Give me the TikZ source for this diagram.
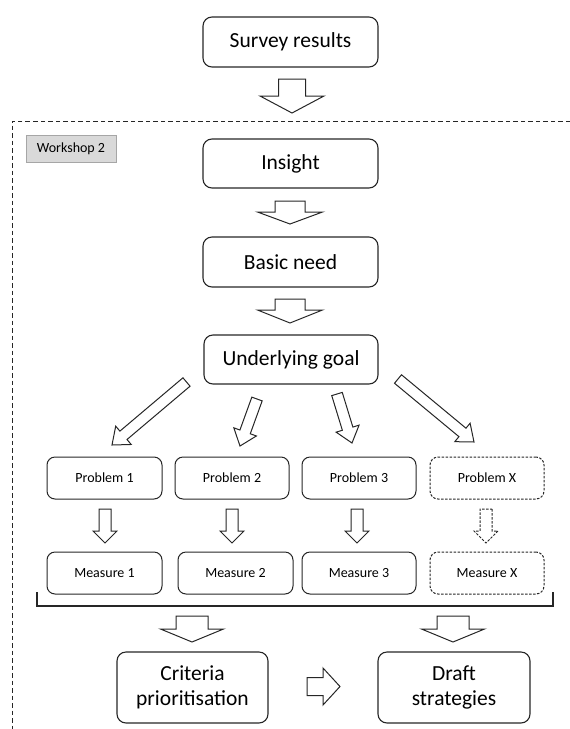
\documentclass[tikz,border=0pt]{standalone}
\usepackage{fontspec}
\setmainfont{Carlito}
\usetikzlibrary{calc}
\definecolor{linegray}{HTML}{262626}
\definecolor{wsfill}{HTML}{D9D9D9}
\definecolor{wsdraw}{HTML}{A6A6A6}
\tikzset{
  bigbox/.style={draw=linegray, line width=1.1pt, rounded corners=9pt, align=center, font=\fontsize{21.5}{25}\selectfont},
  smallbox/.style={draw=linegray, line width=1pt, rounded corners=8pt, align=center, font=\fontsize{14}{16}\selectfont, minimum width=114pt, minimum height=42pt},
  dashbox/.style={smallbox, dash pattern=on 2.5pt off 1.5pt},
  blockarr/.style={draw=linegray, line width=1pt, fill=white, line join=miter},
  border/.style={draw=linegray, line width=1pt, dash pattern=on 4.5pt off 3pt},
}
\newcommand{\blockarrow}[6][]{%
  \coordinate (ba-h) at ($(#3)!#6!(#2)$);
  \draw[blockarr,#1] ($(#2)!#4!90:(#3)$) -- ($(ba-h)!#4!90:(#3)$) -- ($(ba-h)!#5!90:(#3)$) -- (#3)
     -- ($(ba-h)!#5!-90:(#3)$) -- ($(ba-h)!#4!-90:(#3)$) -- ($(#2)!#4!-90:(#3)$) -- cycle;}
\begin{document}
\begin{tikzpicture}[x=1pt,y=-1pt]
\useasboundingbox (0,0) rectangle (570,729);
% border of workshop
\coordinate (bTL) at (12,121);
\coordinate (bTR) at (570,121);
\coordinate (bBL) at (12,729);
\draw[border] (bTR) -- (bTL) -- (bBL);
\node[draw=wsdraw, fill=wsfill, line width=0.6pt, minimum width=90pt, minimum height=27pt, font=\fontsize{14}{16}\selectfont] (ws) at (71,148.5) {Workshop 2};
% main column
\node[bigbox, minimum width=175pt, minimum height=50pt] (survey) at (290.5,42) {Survey results};
\node[bigbox, minimum width=175pt, minimum height=49pt] (insight) at (290.5,163.5) {Insight};
\node[bigbox, minimum width=175pt, minimum height=50pt] (basic) at (290.5,262) {Basic need};
\node[bigbox, minimum width=174pt, minimum height=49pt] (goal) at (291,359.5) {Underlying goal};
% problems
\node[smallbox, minimum width=115pt] (p1) at (104.5,478) {Problem 1};
\node[smallbox] (p2) at (232,478) {Problem 2};
\node[smallbox] (p3) at (359,478) {Problem 3};
\node[dashbox] (px) at (487,478) {Problem X};
% measures
\node[smallbox, minimum width=115pt] (m1) at (104.5,573) {Measure 1};
\node[smallbox, minimum width=115pt] (m2) at (235.5,573) {Measure 2};
\node[smallbox] (m3) at (359,573) {Measure 3};
\node[dashbox] (mx) at (487,573) {Measure X};
% outcomes
\node[bigbox, minimum width=151pt, minimum height=71pt] (crit) at (192.5,687.5) {Criteria\\prioritisation};
\node[bigbox, minimum width=152pt, minimum height=71pt] (draft) at (454,687.5) {Draft\\strategies};
% bracket
\coordinate (brL) at (37,592);
\coordinate (brR) at (553,592);
\draw[draw=linegray, line width=1.1pt] (brL) -- (37,606) -- (553,606) -- (brR);
% arrow coordinates
\coordinate (a0t) at (292,79);  \coordinate (a0h) at (292,113);
\coordinate (a1t) at (290,201); \coordinate (a1h) at (290,224);
\coordinate (a2t) at (290,299); \coordinate (a2h) at (290,323);
\coordinate (d1t) at (186.5,382); \coordinate (d1h) at (112,445);
\coordinate (d2t) at (257,399);   \coordinate (d2h) at (240,446);
\coordinate (d3t) at (337,394);   \coordinate (d3h) at (352,443);
\coordinate (d4t) at (398,379);   \coordinate (d4h) at (474,442);
\coordinate (s1t) at (105,509); \coordinate (s1h) at (105,543);
\coordinate (s2t) at (232,509); \coordinate (s2h) at (232,543);
\coordinate (s3t) at (357,509); \coordinate (s3h) at (357,543);
\coordinate (sxt) at (486,509); \coordinate (sxh) at (486,543);
\coordinate (b1t) at (192,616); \coordinate (b1h) at (192,642);
\coordinate (b2t) at (453,616); \coordinate (b2h) at (453,642);
\coordinate (mt) at (307,686.5); \coordinate (mh) at (340,686.5);
% arrows
\blockarrow{a0t}{a0h}{13.5pt}{32pt}{17pt}
\blockarrow{a1t}{a1h}{15pt}{32.5pt}{12pt}
\blockarrow{a2t}{a2h}{15pt}{32.5pt}{13pt}
\blockarrow{d1t}{d1h}{5.5pt}{12pt}{15pt}
\blockarrow{d2t}{d2h}{5.5pt}{12pt}{15pt}
\blockarrow{d3t}{d3h}{5.5pt}{12pt}{15pt}
\blockarrow{d4t}{d4h}{5.5pt}{12pt}{15pt}
\blockarrow{s1t}{s1h}{6pt}{12pt}{12pt}
\blockarrow{s2t}{s2h}{6pt}{12pt}{12pt}
\blockarrow{s3t}{s3h}{6pt}{12pt}{12pt}
\blockarrow[dash pattern=on 2.5pt off 1.5pt]{sxt}{sxh}{6pt}{12pt}{12pt}
\blockarrow{b1t}{b1h}{16pt}{31.5pt}{13pt}
\blockarrow{b2t}{b2h}{16pt}{31.5pt}{13pt}
\blockarrow{mt}{mh}{9pt}{18.5pt}{17pt}
\end{tikzpicture}
\end{document}
